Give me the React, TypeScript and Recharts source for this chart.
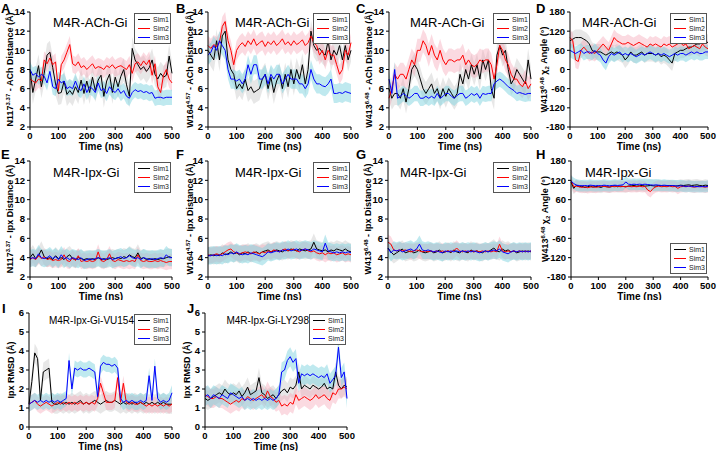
import React from 'react';
import { ComposedChart, Line, Area, XAxis, YAxis, Legend } from 'recharts';

// ---------------- data ----------------
const TIME = [0, 10, 20, 30, 40, 50, 60, 70, 80, 90, 100, 110, 120, 130, 140, 150, 160, 170, 180, 190, 200, 210, 220, 230, 240, 250, 260, 270, 280, 290, 300, 310, 320, 330, 340, 350, 360, 370, 380, 390, 400, 410, 420, 430, 440, 450, 460, 470, 480, 490, 500];
const TIME_TICKS = [0, 100, 200, 300, 400, 500];
const TIME_MINOR = [50, 150, 250, 350, 450];
const DIST_TICKS = [2, 4, 6, 8, 10, 12, 14];
const DIST_MINOR = [3, 5, 7, 9, 11, 13];
const ANGLE_TICKS = [-180, -120, -60, 0, 60, 120, 180];
const ANGLE_MINOR = [-150, -90, -30, 30, 90, 150];
const RMSD_TICKS = [0, 1, 2, 3, 4, 5, 6];
const RMSD_MINOR = [0.5, 1.5, 2.5, 3.5, 4.5, 5.5];
const SERIES_NAMES = ['Sim1', 'Sim2', 'Sim3'];

const A_S1 = [8.0, 5.6, 7.0, 8.4, 6.2, 7.6, 9.5, 9.8, 8.2, 6.5, 5.5, 5.6, 6.8, 5.4, 5.8, 5.4, 6.2, 5.6, 6.9, 5.5, 6.8, 5.6, 7.2, 5.8, 6.9, 7.4, 5.2, 6.8, 7.5, 5.6, 7.2, 6.2, 7.3, 8.0, 6.4, 5.2, 10.2, 9.0, 8.5, 8.0, 8.3, 7.8, 8.2, 9.0, 7.5, 7.0, 7.6, 7.2, 7.4, 9.4, 7.6];
const A_S2 = [7.0, 6.8, 6.6, 7.0, 6.8, 9.0, 8.6, 9.2, 8.5, 8.8, 5.8, 8.5, 9.0, 9.8, 10.6, 8.6, 8.4, 8.8, 8.2, 8.4, 8.0, 8.3, 8.6, 8.1, 8.3, 8.2, 8.0, 8.4, 8.2, 8.5, 8.1, 8.3, 8.4, 8.2, 8.0, 8.5, 7.6, 8.6, 8.8, 8.4, 8.9, 8.5, 9.0, 7.4, 8.6, 6.2, 5.6, 7.4, 8.0, 7.0, 6.6];
const A_S3 = [8.0, 7.4, 7.6, 7.2, 7.5, 7.3, 6.6, 7.8, 6.2, 6.0, 7.0, 6.6, 6.8, 6.0, 6.2, 6.0, 6.8, 6.0, 5.8, 6.5, 5.6, 6.2, 6.0, 5.6, 6.6, 5.8, 6.0, 5.5, 6.2, 5.8, 5.6, 6.0, 5.5, 5.8, 5.2, 5.0, 5.6, 5.9, 5.7, 5.8, 5.6, 5.7, 5.5, 5.6, 5.0, 5.1, 5.1, 5.0, 5.1, 5.1, 5.1];

const B_S1 = [10.0, 9.5, 9.0, 11.0, 9.0, 11.5, 12.0, 9.0, 8.0, 7.5, 6.0, 6.5, 6.0, 7.0, 5.8, 6.2, 5.6, 5.8, 6.0, 7.0, 7.5, 6.0, 7.2, 5.6, 6.8, 7.5, 6.0, 7.5, 6.2, 8.0, 6.5, 8.0, 7.0, 8.5, 6.5, 8.0, 12.0, 10.5, 10.0, 10.2, 9.8, 9.5, 11.0, 9.0, 10.0, 9.5, 10.5, 9.0, 10.5, 9.0, 10.0];
const B_S2 = [10.5, 10.2, 10.6, 10.4, 10.8, 12.5, 13.0, 11.0, 10.0, 8.5, 10.0, 10.5, 10.8, 10.4, 11.0, 10.6, 11.2, 10.5, 10.8, 11.0, 10.4, 10.9, 10.6, 11.0, 10.5, 10.8, 11.2, 10.6, 10.9, 10.5, 11.0, 10.6, 10.8, 11.1, 10.5, 10.8, 11.5, 10.8, 10.5, 9.5, 10.0, 9.0, 10.0, 9.5, 9.5, 8.5, 7.5, 8.0, 10.0, 9.5, 10.8];
const B_S3 = [9.5, 9.8, 10.5, 10.0, 11.0, 10.5, 10.0, 8.0, 7.0, 7.0, 6.8, 7.0, 6.5, 7.0, 8.5, 7.5, 8.5, 8.5, 7.0, 7.0, 7.5, 6.5, 7.5, 7.0, 7.5, 7.5, 6.5, 7.0, 7.5, 7.0, 7.0, 7.0, 6.5, 6.5, 6.0, 6.5, 8.0, 7.0, 6.5, 6.5, 6.3, 6.2, 6.5, 7.0, 5.5, 5.5, 5.6, 5.5, 5.7, 5.6, 5.5];

const C_S1 = [6.0, 5.0, 5.5, 5.5, 5.0, 6.0, 4.6, 6.0, 8.0, 8.5, 8.0, 7.0, 6.0, 5.5, 6.0, 6.5, 5.5, 6.0, 5.0, 6.0, 5.2, 6.0, 5.5, 5.0, 5.5, 7.5, 6.5, 8.0, 7.0, 8.5, 7.5, 8.5, 7.0, 9.0, 8.0, 9.0, 6.0, 5.0, 9.5, 10.5, 9.5, 10.0, 8.0, 6.5, 7.0, 8.0, 7.5, 7.0, 6.5, 9.0, 7.0];
const C_S2 = [5.0, 6.0, 7.5, 7.0, 7.5, 7.5, 7.0, 8.0, 9.0, 8.5, 10.0, 10.0, 11.0, 10.5, 9.5, 10.5, 9.5, 9.0, 10.0, 9.0, 8.5, 9.0, 9.0, 8.8, 9.0, 9.0, 9.5, 8.5, 9.0, 8.5, 8.3, 8.5, 9.0, 8.8, 9.0, 9.0, 8.5, 7.0, 8.5, 10.5, 10.0, 9.0, 8.5, 7.5, 7.0, 7.0, 6.5, 6.2, 6.8, 6.0, 6.5];
const C_S3 = [7.0, 5.5, 8.0, 5.0, 5.2, 5.5, 5.3, 5.0, 5.2, 5.5, 5.5, 5.0, 5.0, 5.2, 5.0, 5.2, 5.0, 5.5, 5.0, 5.2, 5.5, 5.5, 5.2, 5.0, 5.3, 5.5, 5.5, 5.0, 5.2, 5.5, 5.3, 5.5, 5.0, 5.5, 5.4, 5.5, 5.5, 6.5, 6.8, 7.0, 6.8, 6.5, 6.2, 6.0, 5.8, 5.5, 5.6, 5.5, 5.4, 5.5, 5.5];

const D_S1 = [90, 95, 100, 100, 100, 95, 90, 80, 60, 55, 55, 55, 50, 45, 50, 55, 50, 55, 50, 45, 30, 40, 55, 45, 45, 50, 55, 45, 50, 50, 50, 45, 50, 40, 45, 40, 30, 20, 50, 55, 60, 60, 65, 70, 70, 75, 80, 80, 85, 85, 85];
const D_S2 = [100, 90, 30, 25, 60, 70, 60, 50, 55, 50, 60, 70, 80, 70, 60, 80, 100, 90, 85, 80, 80, 85, 80, 75, 80, 85, 80, 75, 70, 80, 75, 80, 75, 70, 80, 75, 80, 70, 75, 80, 85, 75, 80, 65, 70, 75, 70, 65, 80, 70, 65];
const D_S3 = [60, 55, 50, 55, 60, 50, 55, 55, 50, 60, 50, 45, 30, 20, 40, 50, 45, 50, 55, 45, 50, 45, 50, 45, 40, 45, 50, 45, 50, 55, 50, 45, 50, 45, 50, 45, 40, 45, 50, 45, 50, 50, 45, 50, 55, 50, 55, 50, 50, 55, 55];

const E_S1 = [4.0, 4.4, 3.9, 4.2, 4.8, 4.1, 3.9, 4.0, 3.8, 4.2, 3.9, 4.0, 3.8, 4.1, 4.3, 3.9, 3.8, 4.0, 3.9, 3.8, 3.9, 3.8, 3.9, 3.8, 4.0, 3.8, 3.9, 3.8, 3.9, 4.0, 3.9, 4.0, 3.9, 4.1, 4.0, 4.3, 4.1, 4.0, 4.5, 3.9, 4.0, 3.8, 3.9, 3.8, 3.9, 3.8, 3.9, 3.9, 4.0, 4.1, 4.0];
const E_S2 = [3.8, 4.0, 3.8, 4.2, 3.9, 4.1, 3.8, 3.9, 3.7, 3.8, 3.7, 3.8, 4.3, 3.7, 3.6, 4.0, 3.7, 4.2, 3.6, 3.7, 3.6, 3.7, 3.6, 3.7, 4.6, 3.7, 3.6, 3.8, 4.4, 3.7, 3.6, 3.8, 3.7, 3.6, 3.7, 3.6, 3.7, 3.6, 4.3, 3.7, 3.6, 3.7, 3.6, 3.6, 3.7, 3.6, 3.7, 3.6, 3.5, 3.6, 3.6];
const E_S3 = [3.9, 4.0, 3.9, 4.4, 4.0, 3.9, 4.0, 4.2, 3.9, 4.1, 3.8, 4.3, 3.9, 4.0, 3.8, 4.0, 3.9, 3.8, 4.0, 3.7, 3.8, 3.9, 3.8, 3.9, 4.0, 3.9, 3.8, 3.9, 4.0, 3.8, 3.9, 4.0, 4.1, 3.9, 4.0, 4.2, 4.0, 3.9, 4.0, 3.8, 4.0, 3.9, 3.8, 3.9, 3.8, 3.9, 4.0, 3.9, 4.3, 4.0, 4.0];

const F_S1 = [4.2, 4.3, 4.2, 4.3, 4.2, 4.5, 4.3, 4.4, 4.6, 4.4, 4.5, 4.3, 4.5, 4.4, 4.6, 4.4, 4.5, 4.6, 4.4, 4.6, 4.7, 4.8, 4.6, 4.7, 4.8, 4.7, 4.6, 4.8, 4.7, 4.9, 4.8, 4.7, 4.9, 4.8, 4.7, 4.8, 4.9, 5.6, 4.9, 4.8, 4.7, 4.8, 4.6, 4.8, 4.7, 4.9, 4.8, 4.7, 4.9, 4.7, 4.6];
const F_S2 = [4.3, 4.2, 4.3, 4.4, 4.3, 4.4, 4.6, 4.8, 4.9, 4.6, 4.5, 4.4, 4.5, 4.6, 4.5, 4.4, 4.6, 4.5, 4.4, 4.6, 4.5, 4.7, 4.6, 4.8, 4.7, 4.6, 4.8, 4.9, 4.7, 4.8, 4.9, 4.7, 4.6, 4.8, 4.9, 4.7, 4.6, 4.7, 4.5, 4.4, 4.5, 4.3, 4.5, 4.4, 4.5, 4.3, 4.4, 4.5, 4.3, 4.4, 4.3];
const F_S3 = [4.2, 4.2, 4.3, 4.2, 4.3, 4.2, 4.4, 4.3, 4.5, 4.4, 4.6, 4.4, 4.3, 4.4, 4.3, 4.5, 4.4, 4.3, 4.2, 4.1, 4.3, 4.6, 4.5, 4.6, 4.7, 4.6, 4.8, 4.7, 4.9, 4.7, 4.8, 4.9, 4.7, 4.8, 4.9, 4.8, 4.7, 4.9, 4.8, 4.7, 4.6, 5.5, 4.7, 4.6, 4.5, 4.6, 4.5, 4.6, 4.5, 4.6, 4.5];

const G_S1 = [5.0, 4.6, 4.3, 4.5, 4.7, 4.9, 4.5, 4.6, 4.7, 4.5, 4.6, 4.8, 4.6, 4.5, 4.6, 4.7, 4.5, 4.6, 4.8, 4.5, 4.6, 4.7, 4.5, 4.8, 4.6, 4.5, 4.7, 4.6, 4.5, 4.8, 4.6, 4.7, 4.6, 4.5, 4.7, 4.6, 4.8, 5.0, 4.7, 4.6, 4.9, 4.7, 4.8, 4.6, 4.7, 4.5, 4.6, 4.7, 4.6, 4.7, 4.6];
const G_S2 = [5.6, 5.4, 4.8, 4.7, 4.8, 4.7, 4.8, 4.7, 4.6, 4.7, 4.8, 4.7, 4.6, 4.7, 4.6, 4.7, 4.6, 4.7, 4.6, 4.7, 4.6, 4.7, 4.6, 4.7, 5.0, 4.7, 4.6, 4.7, 4.6, 4.7, 4.6, 4.7, 4.6, 4.7, 4.6, 4.7, 4.6, 4.7, 4.6, 5.4, 4.7, 4.6, 4.7, 4.6, 4.7, 4.6, 4.7, 4.6, 4.7, 4.6, 4.7];
const G_S3 = [5.0, 4.5, 4.8, 4.7, 4.8, 4.6, 4.7, 4.8, 4.9, 4.7, 4.9, 5.4, 4.8, 4.7, 4.8, 4.7, 4.6, 4.7, 4.6, 4.5, 4.7, 4.6, 4.7, 4.6, 4.7, 4.6, 4.7, 4.6, 4.7, 4.6, 4.7, 4.6, 4.5, 4.6, 4.7, 4.6, 4.7, 4.8, 4.7, 4.9, 4.6, 4.5, 4.4, 4.6, 4.7, 4.6, 4.7, 4.6, 4.7, 4.6, 4.7];

const H_S1 = [115, 95, 105, 100, 102, 98, 100, 102, 99, 101, 100, 98, 102, 100, 99, 101, 103, 100, 102, 101, 100, 102, 103, 104, 102, 103, 104, 102, 103, 104, 103, 102, 104, 103, 102, 103, 104, 103, 102, 103, 105, 104, 105, 106, 104, 105, 106, 104, 103, 105, 104];
const H_S2 = [120, 100, 102, 100, 98, 100, 97, 99, 100, 98, 100, 102, 101, 100, 99, 101, 100, 102, 100, 101, 100, 102, 100, 101, 100, 102, 100, 101, 90, 85, 95, 100, 102, 100, 101, 100, 102, 100, 101, 95, 100, 101, 100, 102, 100, 99, 100, 101, 100, 99, 100];
const H_S3 = [118, 110, 105, 104, 103, 104, 103, 105, 104, 103, 104, 103, 105, 104, 103, 104, 105, 104, 105, 106, 115, 108, 107, 108, 107, 108, 107, 108, 107, 106, 105, 106, 105, 104, 105, 104, 103, 104, 103, 102, 103, 102, 101, 102, 101, 100, 101, 100, 101, 100, 102];

const I_S1 = [1.2, 2.4, 3.9, 3.6, 1.4, 2.9, 3.0, 3.1, 1.3, 1.2, 1.2, 1.3, 1.2, 1.3, 1.2, 1.3, 1.2, 1.3, 1.4, 1.2, 1.3, 1.2, 1.3, 1.4, 1.3, 1.2, 1.3, 1.4, 1.3, 1.3, 1.4, 1.3, 1.2, 1.3, 1.2, 1.3, 1.2, 1.3, 1.2, 1.3, 1.2, 1.3, 1.2, 1.3, 1.2, 1.3, 1.2, 1.3, 1.2, 1.2, 1.2];
const I_S2 = [1.2, 1.3, 1.4, 1.2, 1.1, 1.2, 1.3, 1.2, 1.1, 1.2, 1.3, 1.2, 1.3, 1.2, 1.3, 1.2, 1.3, 1.2, 1.3, 1.2, 1.3, 1.2, 1.3, 1.2, 1.5, 2.3, 1.8, 1.3, 1.3, 1.3, 1.4, 2.6, 1.3, 2.3, 1.3, 1.2, 1.3, 1.2, 1.2, 1.3, 1.2, 1.1, 1.2, 1.1, 1.2, 1.1, 1.2, 1.1, 1.2, 1.1, 1.2];
const I_S3 = [1.2, 1.3, 1.4, 1.3, 1.4, 1.3, 1.4, 1.3, 1.4, 1.3, 1.4, 1.3, 1.4, 1.5, 3.5, 2.0, 3.1, 3.0, 3.1, 3.0, 3.0, 3.1, 3.0, 2.9, 1.6, 3.2, 3.4, 3.3, 3.3, 3.2, 3.3, 3.1, 1.5, 1.3, 1.4, 1.3, 1.4, 1.3, 1.3, 1.4, 1.3, 1.4, 2.7, 1.4, 3.2, 1.5, 1.3, 1.4, 1.3, 1.4, 1.8];

const J_S1 = [1.5, 1.4, 1.5, 1.6, 1.7, 1.8, 1.7, 2.0, 1.8, 1.7, 1.8, 1.7, 1.9, 1.6, 1.8, 2.1, 1.7, 1.8, 1.9, 2.6, 1.8, 1.7, 1.5, 1.6, 1.7, 1.5, 1.7, 1.9, 2.0, 1.8, 2.1, 2.0, 2.2, 2.9, 2.0, 2.2, 2.1, 2.0, 2.2, 2.1, 2.0, 2.1, 2.3, 2.0, 2.1, 2.0, 2.9, 2.2, 2.0, 2.2, 2.1];
const J_S2 = [1.7, 1.6, 1.5, 1.5, 1.6, 1.5, 1.5, 1.4, 1.3, 1.2, 1.3, 1.4, 1.3, 1.5, 1.4, 1.6, 1.5, 1.4, 1.5, 1.6, 1.7, 1.5, 1.9, 1.6, 1.5, 1.3, 1.4, 1.1, 1.2, 1.1, 1.3, 1.2, 1.7, 1.4, 1.5, 1.6, 1.5, 1.4, 1.5, 1.7, 1.5, 1.6, 1.7, 1.5, 1.4, 1.8, 1.7, 2.0, 2.0, 2.1, 2.0];
const J_S3 = [1.6, 1.7, 1.5, 1.7, 1.6, 1.5, 1.7, 1.6, 1.5, 1.8, 1.7, 1.6, 1.5, 1.6, 1.4, 1.5, 1.4, 1.5, 1.4, 1.5, 1.4, 1.5, 1.4, 1.5, 1.4, 1.5, 1.7, 2.9, 3.0, 3.5, 3.7, 3.4, 3.6, 2.3, 2.8, 2.7, 2.8, 2.7, 2.8, 2.7, 2.6, 2.7, 2.6, 2.8, 2.3, 2.5, 2.7, 4.2, 2.6, 2.9, 1.5];

// half-width of the shaded standard-deviation band of each run
const SPREAD_A = [1.2, 0.9, 0.8];
const SPREAD_B = [1.2, 1.0, 1.0];
const SPREAD_C = [1.2, 1.2, 0.8];
const SPREAD_D = [25, 25, 22];
const SPREAD_E = [0.9, 0.8, 0.9];
const SPREAD_F = [0.9, 0.8, 0.9];
const SPREAD_G = [0.9, 0.8, 0.9];
const SPREAD_H = [18, 18, 18];
const SPREAD_I = [0.5, 0.4, 0.4];
const SPREAD_J = [0.5, 0.5, 0.5];

// ---------------- styles ----------------
const FONT = '"Liberation Sans", Arial, Helvetica, sans-serif';
const LINE_COLORS = ['#000000', '#ff0000', '#0000ff'];
const BAND_COLORS = ['#c4c4c4', '#f5a3b5', '#7fd3df'];
const BAND_OPACITY = [0.4, 0.4, 0.5];

type Part = [string, ('sup' | 'sub')?];
type Box = { cx: number; cy: number; cw: number; ch: number };
type Plot = { pl: number; pt: number; pr: number; pb: number };
type Cfg = {
  letter: string; lx: number; ly: number;
  title: string; tx: number; ty: number; tsize: number; tanchor?: 'start' | 'end';
  series: number[][]; spread: number[];
  domain: [number, number]; ticks: number[]; minor: number[];
  ylabel: Part[]; loff: number;
  box: Box; plot: Plot; legend: 'top' | 'bottom';
};

const supPart = (t: string): Part => [t, 'sup'];
const subPart = (t: string): Part => [t, 'sub'];

const PANELS: Cfg[] = [
  { letter: 'A', lx: 1, ly: 13, title: 'M4R-ACh-Gi', tx: 53, ty: 27, tsize: 13, series: [A_S1, A_S2, A_S3], spread: SPREAD_A, domain: [2, 14], ticks: DIST_TICKS, minor: DIST_MINOR,
    ylabel: [['N117'], supPart('3.37'), [' - ACh Distance (Å)']], loff: 17, box: { cx: 0, cy: 0, cw: 184, ch: 152 }, plot: { pl: 30, pt: 12, pr: 172, pb: 127 }, legend: 'top' },
  { letter: 'B', lx: 176, ly: 13, title: 'M4R-ACh-Gi', tx: 235, ty: 27, tsize: 13, series: [B_S1, B_S2, B_S3], spread: SPREAD_B, domain: [2, 14], ticks: DIST_TICKS, minor: DIST_MINOR,
    ylabel: [['W164'], supPart('4.57'), [' - ACh Distance (Å)']], loff: 15, box: { cx: 176, cy: 0, cw: 184, ch: 152 }, plot: { pl: 208, pt: 12, pr: 351, pb: 127 }, legend: 'top' },
  { letter: 'C', lx: 356, ly: 13, title: 'M4R-ACh-Gi', tx: 410, ty: 27, tsize: 13, series: [C_S1, C_S2, C_S3], spread: SPREAD_C, domain: [2, 14], ticks: DIST_TICKS, minor: DIST_MINOR,
    ylabel: [['W413'], supPart('6.48'), [' - ACh Distance (Å)']], loff: 17, box: { cx: 355, cy: 0, cw: 185, ch: 152 }, plot: { pl: 389, pt: 12, pr: 531, pb: 127 }, legend: 'top' },
  { letter: 'D', lx: 536, ly: 13, title: 'M4R-ACh-Gi', tx: 582, ty: 27, tsize: 13, series: [D_S1, D_S2, D_S3], spread: SPREAD_D, domain: [-180, 180], ticks: ANGLE_TICKS, minor: ANGLE_MINOR,
    ylabel: [['W413'], supPart('6.48'), [' χ'], subPart('2'), [' Angle (°)']], loff: 23, box: { cx: 535, cy: 0, cw: 182, ch: 152 }, plot: { pl: 570, pt: 12, pr: 708, pb: 127 }, legend: 'top' },
  { letter: 'E', lx: 1, ly: 159, title: 'M4R-Ipx-Gi', tx: 53, ty: 177, tsize: 13, series: [E_S1, E_S2, E_S3], spread: SPREAD_E, domain: [2, 14], ticks: DIST_TICKS, minor: DIST_MINOR,
    ylabel: [['N117'], supPart('3.37'), [' - Ipx Distance (Å)']], loff: 17, box: { cx: 0, cy: 150, cw: 184, ch: 150 }, plot: { pl: 30, pt: 161, pr: 172, pb: 277 }, legend: 'top' },
  { letter: 'F', lx: 176, ly: 159, title: 'M4R-Ipx-Gi', tx: 235, ty: 177, tsize: 13, series: [F_S1, F_S2, F_S3], spread: SPREAD_F, domain: [2, 14], ticks: DIST_TICKS, minor: DIST_MINOR,
    ylabel: [['W164'], supPart('4.57'), [' - Ipx Distance (Å)']], loff: 15, box: { cx: 176, cy: 150, cw: 184, ch: 150 }, plot: { pl: 208, pt: 161, pr: 351, pb: 277 }, legend: 'top' },
  { letter: 'G', lx: 356, ly: 159, title: 'M4R-Ipx-Gi', tx: 400, ty: 177, tsize: 13, series: [G_S1, G_S2, G_S3], spread: SPREAD_G, domain: [2, 14], ticks: DIST_TICKS, minor: DIST_MINOR,
    ylabel: [['W413'], supPart('6.48'), [' - Ipx Distance (Å)']], loff: 17, box: { cx: 355, cy: 150, cw: 185, ch: 150 }, plot: { pl: 388, pt: 161, pr: 531, pb: 277 }, legend: 'top' },
  { letter: 'H', lx: 536, ly: 159, title: 'M4R-Ipx-Gi', tx: 585, ty: 177, tsize: 13, series: [H_S1, H_S2, H_S3], spread: SPREAD_H, domain: [-180, 180], ticks: ANGLE_TICKS, minor: ANGLE_MINOR,
    ylabel: [['W413'], supPart('6.48'), [' χ'], subPart('2'), [' Angle (°)']], loff: 23, box: { cx: 535, cy: 150, cw: 182, ch: 150 }, plot: { pl: 571, pt: 161, pr: 708, pb: 277 }, legend: 'bottom' },
  { letter: 'I', lx: 2, ly: 313, title: 'M4R-Ipx-Gi-VU154', tx: 134, ty: 324, tsize: 10, tanchor: 'end', series: [I_S1, I_S2, I_S3], spread: SPREAD_I, domain: [0, 6], ticks: RMSD_TICKS, minor: RMSD_MINOR,
    ylabel: [['Ipx RMSD (Å)']], loff: 15, box: { cx: 0, cy: 298, cw: 184, ch: 153 }, plot: { pl: 29, pt: 313, pr: 172, pb: 427 }, legend: 'top' },
  { letter: 'J', lx: 187, ly: 313, title: 'M4R-Ipx-Gi-LY298', tx: 309, ty: 324, tsize: 10, tanchor: 'end', series: [J_S1, J_S2, J_S3], spread: SPREAD_J, domain: [0, 6], ticks: RMSD_TICKS, minor: RMSD_MINOR,
    ylabel: [['Ipx RMSD (Å)']], loff: 15, box: { cx: 176, cy: 298, cw: 182, ch: 153 }, plot: { pl: 205, pt: 313, pr: 347, pb: 427 }, legend: 'top' },
];

function buildData(series: number[][], spread: number[]) {
  return TIME.map((t, i) => {
    const row: any = { t };
    series.forEach((s, k) => {
      row['s' + k] = s[i];
      row['b' + k] = [s[i] - spread[k], s[i] + spread[k]];
    });
    return row;
  });
}

function renderParts(parts: Part[]) {
  let shift = 0;
  return parts.map(([txt, kind], i) => {
    const target = kind === 'sup' ? -3.5 : kind === 'sub' ? 2 : 0;
    const dy = target - shift;
    shift = target;
    return (
      <tspan key={i} dy={dy} fontSize={kind ? 6 : undefined}>{txt}</tspan>
    );
  });
}

const tickStyle = { fontSize: 9.5, fontWeight: 'bold' as const, fill: '#000', fontFamily: FONT };

function LegendBox() {
  return (
    <div style={{ border: '1px solid #555', background: '#fff', width: 35, padding: '1px 0', fontFamily: FONT, fontSize: 7, color: '#222', boxSizing: 'content-box' }}>
      {SERIES_NAMES.map((n, i) => (
        <div key={n} style={{ display: 'flex', alignItems: 'center', height: 9, lineHeight: '9px' }}>
          <span style={{ display: 'inline-block', width: 12, height: 1.5, background: LINE_COLORS[i], marginLeft: 3, marginRight: 3 }} />
          <span>{n}</span>
        </div>
      ))}
    </div>
  );
}

function Panel({ cfg }: { cfg: Cfg }) {
  const { box, plot } = cfg;
  const data = buildData(cfg.series, cfg.spread);
  const yW = plot.pl - box.cx;
  const mTop = plot.pt - box.cy;
  const mRight = box.cx + box.cw - plot.pr;
  const xH = box.cy + box.ch - plot.pb;
  const legTop = cfg.legend === 'top' ? plot.pt + 1 - box.cy : plot.pb - 34 - box.cy;
  const legLeft = plot.pr - 38 - box.cx;

  const yLabel = (props: any) => {
    const vb = props.viewBox || { x: 0, y: 0, width: yW, height: 0 };
    const x = vb.x + vb.width - cfg.loff;
    const y = vb.y + vb.height / 2;
    return (
      <text transform={`translate(${x},${y}) rotate(-90)`} textAnchor="middle" fontFamily={FONT} fontSize={9} fontWeight="bold" fill="#000">
        {renderParts(cfg.ylabel)}
      </text>
    );
  };
  const xLabel = (props: any) => {
    const vb = props.viewBox || { x: yW, y: plot.pb - box.cy, width: plot.pr - plot.pl, height: 0 };
    return (
      <text x={vb.x + vb.width / 2} y={vb.y + 22.5} textAnchor="middle" fontFamily={FONT} fontSize={10} fontWeight="bold" fill="#000">
        Time (ns)
      </text>
    );
  };

  return (
    <div style={{ position: 'absolute', left: box.cx, top: box.cy }}>
      <ComposedChart width={box.cw} height={box.ch} data={data} margin={{ top: mTop, right: mRight, left: 0, bottom: 0 }}>
        {/* minor ticks (zero-size axes sitting on the frame) */}
        <XAxis xAxisId="minor" dataKey="t" type="number" domain={[0, 500]} ticks={TIME_MINOR} interval={0} height={0}
          tick={false} tickSize={2} tickLine={{ stroke: '#000' }} axisLine={false} />
        <YAxis yAxisId="minor" type="number" domain={cfg.domain} ticks={cfg.minor} interval={0} width={0}
          tick={false} tickSize={2} tickLine={{ stroke: '#000' }} axisLine={false} />
        <XAxis dataKey="t" type="number" domain={[0, 500]} ticks={TIME_TICKS} interval={0} height={xH}
          tick={tickStyle} tickSize={3} tickMargin={2} stroke="#000" tickLine={{ stroke: '#000' }} axisLine={{ stroke: '#000' }} label={xLabel} />
        <YAxis type="number" domain={cfg.domain} ticks={cfg.ticks} interval={0} width={yW} allowDataOverflow
          tick={tickStyle} tickSize={3} tickMargin={2} stroke="#000" tickLine={{ stroke: '#000' }} axisLine={{ stroke: '#000' }} label={yLabel} />
        <XAxis xAxisId="top" orientation="top" dataKey="t" type="number" domain={[0, 500]} ticks={TIME_TICKS} height={0} tick={false} tickLine={false} axisLine={{ stroke: '#000' }} />
        <YAxis yAxisId="right" orientation="right" type="number" domain={cfg.domain} ticks={cfg.ticks} width={0} tick={false} tickLine={false} axisLine={{ stroke: '#000' }} />
        {[0, 1, 2].map((k) => (
          <Area key={'b' + k} dataKey={'b' + k} type="linear" stroke="none" fill={BAND_COLORS[k]} fillOpacity={BAND_OPACITY[k]} isAnimationActive={false} dot={false} activeDot={false} />
        ))}
        {[0, 1, 2].map((k) => (
          <Line key={'s' + k} dataKey={'s' + k} name={SERIES_NAMES[k]} type="linear" stroke={LINE_COLORS[k]} strokeWidth={1} dot={false} activeDot={false} isAnimationActive={false} />
        ))}
        <Legend layout="horizontal" align="center" verticalAlign="middle" wrapperStyle={{ left: legLeft, top: legTop, width: 37 }} content={() => <LegendBox />} />
      </ComposedChart>
    </div>
  );
}

export default function App() {
  return (
    <div style={{ position: 'absolute', left: 0, top: 0, width: 717, height: 451, background: '#fff', overflow: 'hidden' }}>
      {PANELS.map((p) => <Panel key={p.letter} cfg={p} />)}
      <svg width={717} height={451} style={{ position: 'absolute', left: 0, top: 0, pointerEvents: 'none' }}>
        {PANELS.map((p) => (
          <g key={p.letter}>
            <text x={p.lx} y={p.ly} fontFamily={FONT} fontSize={13} fontWeight="bold" fill="#000">{p.letter}</text>
            <text x={p.tx} y={p.ty} fontFamily={FONT} fontSize={p.tsize} fill="#000" textAnchor={p.tanchor || 'start'}>{p.title}</text>
          </g>
        ))}
      </svg>
    </div>
  );
}
